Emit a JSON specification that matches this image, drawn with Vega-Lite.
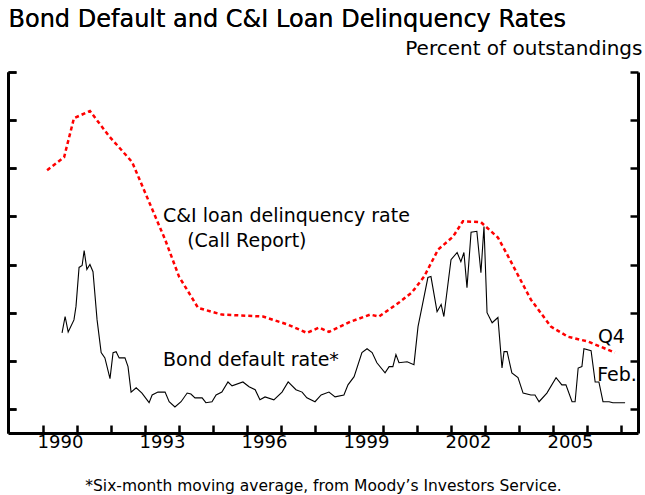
{
  "$schema": "https://vega.github.io/schema/vega-lite/v6.json",
  "autosize": "none",
  "padding": {"left": 8, "top": 72, "right": 7, "bottom": 62},
  "width": 630,
  "height": 361,
  "background": "white",
  "config": {"font": "DejaVu Sans", "view": {"stroke": null}},
  "datasets": {
    "ci": [
      {"t": 1990.12, "v": 5.46}, {"t": 1990.62, "v": 5.73}, {"t": 1990.91, "v": 6.54}, {"t": 1991.38, "v": 6.69},
      {"t": 1991.94, "v": 6.17}, {"t": 1992.62, "v": 5.63}, {"t": 1993.09, "v": 4.85}, {"t": 1993.59, "v": 4.02},
      {"t": 1994.0, "v": 3.25}, {"t": 1994.56, "v": 2.6}, {"t": 1995.26, "v": 2.46}, {"t": 1996.47, "v": 2.42},
      {"t": 1997.21, "v": 2.25}, {"t": 1997.76, "v": 2.08}, {"t": 1998.12, "v": 2.19}, {"t": 1998.41, "v": 2.1},
      {"t": 1999.03, "v": 2.31}, {"t": 1999.62, "v": 2.46}, {"t": 1999.88, "v": 2.42}, {"t": 2000.47, "v": 2.71},
      {"t": 2000.85, "v": 2.92}, {"t": 2001.21, "v": 3.25}, {"t": 2001.62, "v": 3.81}, {"t": 2002.06, "v": 4.08},
      {"t": 2002.35, "v": 4.4}, {"t": 2002.88, "v": 4.38}, {"t": 2003.38, "v": 4.06}, {"t": 2003.62, "v": 3.75},
      {"t": 2004.35, "v": 2.77}, {"t": 2004.94, "v": 2.21}, {"t": 2005.44, "v": 2.0}, {"t": 2006.03, "v": 1.9},
      {"t": 2006.41, "v": 1.79}, {"t": 2006.82, "v": 1.67}
    ],
    "bond": [
      {"t": 1990.56, "v": 2.08}, {"t": 1990.65, "v": 2.42}, {"t": 1990.74, "v": 2.1}, {"t": 1990.91, "v": 2.35},
      {"t": 1990.97, "v": 2.63}, {"t": 1991.06, "v": 3.44}, {"t": 1991.15, "v": 3.48}, {"t": 1991.21, "v": 3.79},
      {"t": 1991.29, "v": 3.4}, {"t": 1991.38, "v": 3.5}, {"t": 1991.47, "v": 3.35}, {"t": 1991.59, "v": 2.35},
      {"t": 1991.71, "v": 1.67}, {"t": 1991.82, "v": 1.56}, {"t": 1991.97, "v": 1.13}, {"t": 1992.06, "v": 1.67},
      {"t": 1992.15, "v": 1.69}, {"t": 1992.24, "v": 1.56}, {"t": 1992.41, "v": 1.56}, {"t": 1992.5, "v": 1.38},
      {"t": 1992.59, "v": 0.85}, {"t": 1992.74, "v": 0.94}, {"t": 1992.91, "v": 0.83}, {"t": 1993.12, "v": 0.63},
      {"t": 1993.21, "v": 0.79}, {"t": 1993.38, "v": 0.85}, {"t": 1993.59, "v": 0.85}, {"t": 1993.71, "v": 0.65},
      {"t": 1993.88, "v": 0.54}, {"t": 1994.06, "v": 0.65}, {"t": 1994.24, "v": 0.83}, {"t": 1994.35, "v": 0.81},
      {"t": 1994.47, "v": 0.73}, {"t": 1994.68, "v": 0.73}, {"t": 1994.79, "v": 0.63}, {"t": 1994.97, "v": 0.65},
      {"t": 1995.09, "v": 0.79}, {"t": 1995.26, "v": 0.85}, {"t": 1995.44, "v": 1.06}, {"t": 1995.56, "v": 0.98},
      {"t": 1995.88, "v": 1.06}, {"t": 1996.06, "v": 0.96}, {"t": 1996.24, "v": 0.9}, {"t": 1996.38, "v": 0.69},
      {"t": 1996.53, "v": 0.75}, {"t": 1996.79, "v": 0.69}, {"t": 1997.03, "v": 0.85}, {"t": 1997.21, "v": 1.06},
      {"t": 1997.44, "v": 0.9}, {"t": 1997.62, "v": 0.85}, {"t": 1997.76, "v": 0.73}, {"t": 1998.0, "v": 0.65},
      {"t": 1998.18, "v": 0.79}, {"t": 1998.41, "v": 0.85}, {"t": 1998.59, "v": 0.75}, {"t": 1998.85, "v": 0.79},
      {"t": 1998.97, "v": 1.0}, {"t": 1999.15, "v": 1.17}, {"t": 1999.38, "v": 1.67}, {"t": 1999.53, "v": 1.75},
      {"t": 1999.68, "v": 1.67}, {"t": 1999.82, "v": 1.46}, {"t": 2000.06, "v": 1.25}, {"t": 2000.18, "v": 1.38},
      {"t": 2000.29, "v": 1.38}, {"t": 2000.38, "v": 1.63}, {"t": 2000.47, "v": 1.46}, {"t": 2000.71, "v": 1.48},
      {"t": 2000.91, "v": 1.42}, {"t": 2001.03, "v": 2.21}, {"t": 2001.15, "v": 2.63}, {"t": 2001.32, "v": 3.23},
      {"t": 2001.41, "v": 3.25}, {"t": 2001.59, "v": 2.52}, {"t": 2001.71, "v": 2.67}, {"t": 2001.79, "v": 2.42},
      {"t": 2002.0, "v": 3.6}, {"t": 2002.18, "v": 3.75}, {"t": 2002.29, "v": 3.56}, {"t": 2002.38, "v": 3.75},
      {"t": 2002.47, "v": 3.02}, {"t": 2002.59, "v": 4.17}, {"t": 2002.76, "v": 4.19}, {"t": 2002.88, "v": 3.33},
      {"t": 2002.97, "v": 4.29}, {"t": 2003.06, "v": 2.5}, {"t": 2003.21, "v": 2.29}, {"t": 2003.38, "v": 2.4},
      {"t": 2003.5, "v": 1.35}, {"t": 2003.56, "v": 1.69}, {"t": 2003.65, "v": 1.69}, {"t": 2003.79, "v": 1.25},
      {"t": 2003.97, "v": 1.15}, {"t": 2004.12, "v": 0.83}, {"t": 2004.35, "v": 0.79}, {"t": 2004.47, "v": 0.79},
      {"t": 2004.59, "v": 0.65}, {"t": 2004.82, "v": 0.83}, {"t": 2005.09, "v": 1.15}, {"t": 2005.26, "v": 1.0},
      {"t": 2005.38, "v": 1.0}, {"t": 2005.56, "v": 0.65}, {"t": 2005.65, "v": 0.65}, {"t": 2005.74, "v": 1.35},
      {"t": 2005.85, "v": 1.38}, {"t": 2005.91, "v": 1.75}, {"t": 2006.12, "v": 1.71}, {"t": 2006.24, "v": 1.06},
      {"t": 2006.35, "v": 1.06}, {"t": 2006.47, "v": 0.65}, {"t": 2006.65, "v": 0.65}, {"t": 2006.76, "v": 0.63},
      {"t": 2006.88, "v": 0.63}, {"t": 2007.12, "v": 0.63}
    ],
    "labels": [
      {"t": 1993.53, "v": 4.5, "label": "C&I loan delinquency rate"},
      {"t": 1994.24, "v": 3.98, "label": "(Call Report)"},
      {"t": 1993.53, "v": 1.52, "label": "Bond default rate*"},
      {"t": 2006.32, "v": 2.0, "label": "Q4"},
      {"t": 2006.3, "v": 1.2, "label": "Feb."}
    ]
  },
  "encoding": {
    "x": {
      "field": "t", "type": "quantitative",
      "scale": {"domain": [1988.97, 2007.5], "nice": false, "zero": false},
      "axis": {
        "values": [1990, 1991, 1992, 1993, 1994, 1995, 1996, 1997, 1998, 1999, 2000, 2001, 2002, 2003, 2004, 2005, 2006, 2007],
        "labelExpr": "(datum.value - 1990) % 3 == 0 && datum.value < 2007 ? datum.value : ''",
        "labelOffset": 17, "labelFontSize": 18, "labelColor": "black", "labelPadding": 8,
        "tickSize": -8, "tickWidth": 2.5, "tickColor": "black",
        "domainWidth": 3, "domainColor": "black", "grid": false,
        "title": "*Six-month moving average, from Moody\u2019s Investors Service.",
        "titleFontSize": 15.5, "titleFontWeight": "normal", "titleColor": "black", "titleY": 45, "titleBaseline": "top"
      }
    },
    "y": {
      "field": "v", "type": "quantitative",
      "scale": {"domain": [0, 7.5], "nice": false},
      "axis": {
        "values": [0.5, 1.5, 2.5, 3.5, 4.5, 5.5, 6.5, 7.5], "labels": false,
        "tickSize": -8, "tickWidth": 2.5, "tickColor": "black",
        "domainWidth": 3, "domainColor": "black", "grid": false,
        "title": "Bond Default and C&I Loan Delinquency Rates", "titleAngle": 0, "titleAlign": "left", "titleBaseline": "bottom",
        "titleFontSize": 24, "titleFontWeight": "normal", "titleColor": "black", "titleX": 0, "titleY": -41
      }
    }
  },
  "layer": [
    {
      "data": {"name": "ci"},
      "mark": {"type": "line", "color": "#ff0000", "strokeWidth": 2.5, "strokeDash": [4, 3]},
      "encoding": {"y": {"field": "v", "type": "quantitative", "axis": {
        "orient": "right", "values": [0.5, 1.5, 2.5, 3.5, 4.5, 5.5, 6.5, 7.5], "labels": false,
        "tickSize": -8, "tickWidth": 2.5, "tickColor": "black",
        "domainWidth": 3, "domainColor": "black", "grid": false,
        "title": "Percent of outstandings", "titleAngle": 0, "titleAlign": "right", "titleBaseline": "bottom",
        "titleFontSize": 20, "titleFontWeight": "normal", "titleColor": "black", "titleX": 4, "titleY": -14
      }}}
    },
    {
      "data": {"name": "bond"},
      "mark": {"type": "line", "color": "black", "strokeWidth": 1.1},
      "encoding": {"y": {"field": "v", "type": "quantitative"}}
    },
    {
      "data": {"name": "labels"},
      "mark": {"type": "text", "align": "left", "baseline": "middle", "fontSize": 19, "color": "black"},
      "encoding": {"text": {"field": "label"}, "y": {"field": "v", "type": "quantitative"}}
    }
  ],
  "resolve": {"axis": {"y": "independent"}}
}
